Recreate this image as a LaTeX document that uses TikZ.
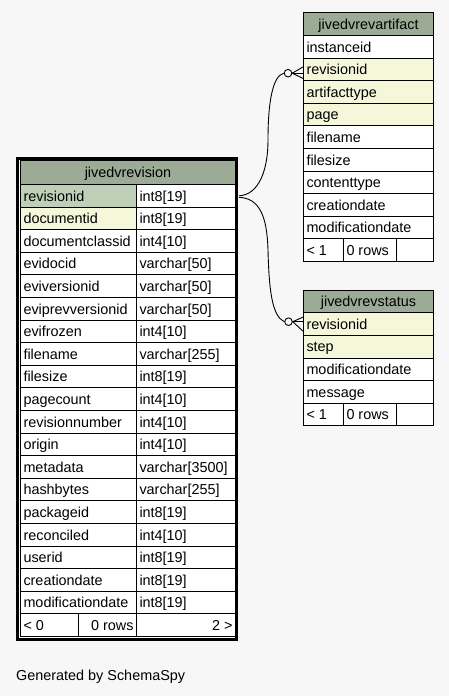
\documentclass[tikz,border=0pt]{standalone}
\usepackage{fontspec}
\setmainfont{Liberation Sans}
\usetikzlibrary{calc}
\definecolor{bgc}{HTML}{F7F7F7}
\definecolor{hdr}{HTML}{9BAB96}
\definecolor{pk}{HTML}{BED1B8}
\definecolor{fk}{HTML}{F4F7DA}
\tikzset{
  cell/.style={draw=black, line width=1pt, anchor=north west, inner xsep=3pt, inner ysep=0pt,
    minimum height=22.6pt, text height=10.4pt, text depth=0pt,
    font=\fontsize{14.4}{16}\selectfont},
  conn/.style={draw=black, line width=0.9pt},
  odot/.style={circle, draw=black, line width=0.9pt, fill=bgc, minimum size=7.6pt, inner sep=0pt},
}
\newcommand{\tcell}[7]{% name, x, y, width, fill, align, text
  \node[cell, fill=#5, minimum width=#4pt] (#1) at (#2,#3) {\makebox[\dimexpr #4pt-6pt\relax][#6]{#7}};}
\begin{document}
\begin{tikzpicture}[x=1pt, y=-1pt]
\useasboundingbox[fill=bgc] (0,0) rectangle (449,696);

% ---------- main table ----------
\node[draw=black, line width=3pt, fill=white, inner sep=0pt, minimum width=219pt, minimum height=481pt] (main) at (127,399) {};
\node[cell, fill=hdr, minimum width=215pt, minimum height=24pt] (mhdr) at (20,160)
  {\makebox[209pt][c]{jivedvrevision}};
\foreach \n/\t/\c [count=\i from 0] in {
  revisionid/int8[19]/pk,
  documentid/int8[19]/fk,
  documentclassid/int4[10]/white,
  evidocid/varchar[50]/white,
  eviversionid/varchar[50]/white,
  eviprevversionid/varchar[50]/white,
  evifrozen/int4[10]/white,
  filename/varchar[255]/white,
  filesize/int8[19]/white,
  pagecount/int4[10]/white,
  revisionnumber/int4[10]/white,
  origin/int4[10]/white,
  metadata/varchar[3500]/white,
  hashbytes/varchar[255]/white,
  packageid/int8[19]/white,
  reconciled/int4[10]/white,
  userid/int8[19]/white,
  creationdate/int8[19]/white,
  modificationdate/int8[19]/white}{
  \tcell{mn\i}{20}{184+\i*22.6}{116}{\c}{l}{\n}
  \tcell{mt\i}{136}{184+\i*22.6}{99}{white}{l}{\t}
}
\tcell{mf1}{20}{613.4}{58}{white}{l}{< 0}
\tcell{mf2}{78}{613.4}{58}{white}{r}{0 rows}
\tcell{mf3}{136}{613.4}{99}{white}{r}{2 >}

% ---------- jivedvrevartifact ----------
\node[cell, fill=hdr, minimum width=130pt, minimum height=23pt] (ahdr) at (303,12)
  {\makebox[124pt][c]{jivedvrevartifact}};
\foreach \n/\c [count=\i from 0] in {
  instanceid/white, revisionid/fk, artifacttype/fk, page/fk, filename/white,
  filesize/white, contenttype/white, creationdate/white, modificationdate/white}{
  \tcell{a\i}{303}{35+\i*22.6}{130}{\c}{l}{\n}
}
\tcell{af1}{303}{238.4}{40}{white}{l}{< 1}
\tcell{af2}{343}{238.4}{53}{white}{l}{0 rows}
\tcell{af3}{396}{238.4}{37}{white}{l}{}

% ---------- jivedvrevstatus ----------
\node[cell, fill=hdr, minimum width=130pt, minimum height=22.8pt] (shdr) at (303,289.5)
  {\makebox[124pt][c]{jivedvrevstatus}};
\foreach \n/\c [count=\i from 0] in {
  revisionid/fk, step/fk, modificationdate/white, message/white}{
  \tcell{s\i}{303}{312.3+\i*22.6}{130}{\c}{l}{\n}
}
\tcell{sf1}{303}{402.7}{40}{white}{l}{< 1}
\tcell{sf2}{343}{402.7}{53}{white}{l}{0 rows}
\tcell{sf3}{396}{402.7}{37}{white}{l}{}

% ---------- connectors ----------
\node[odot] (ac) at ($(a1.west)+(-15,3.8)$) {};
\node[odot] (sc) at ($(s0.west)+(-14.5,-2.4)$) {};

\draw[conn] ($(mt0.east)+(3,0)$) .. controls +(20,-1) and (268,170) .. (268,140)
  .. controls (268,105) and (272,76) .. (ac.west);
\draw[conn] ($(mt0.east)+(3,1.5)$) .. controls +(20,1) and (267,215) .. (268,250)
  .. controls (269,290) and (272,316) .. (sc.west);

\draw[conn] (ac.east) -- ($(a1.west)+(0,-2.5)$);
\draw[conn] (ac.east) -- ($(a1.west)+(0,3.8)$);
\draw[conn] (ac.east) -- ($(a1.west)+(0,9)$);
\draw[conn] (sc.east) -- ($(s0.west)+(0,-7)$);
\draw[conn] (sc.east) -- ($(s0.west)+(0,-2.4)$);
\draw[conn] (sc.east) -- ($(s0.west)+(0,7)$);

% ---------- footer text ----------
\node[anchor=west, inner sep=0pt, font=\fontsize{14.4}{16}\selectfont] (gen) at (16,677) {Generated by SchemaSpy};
\end{tikzpicture}
\end{document}
